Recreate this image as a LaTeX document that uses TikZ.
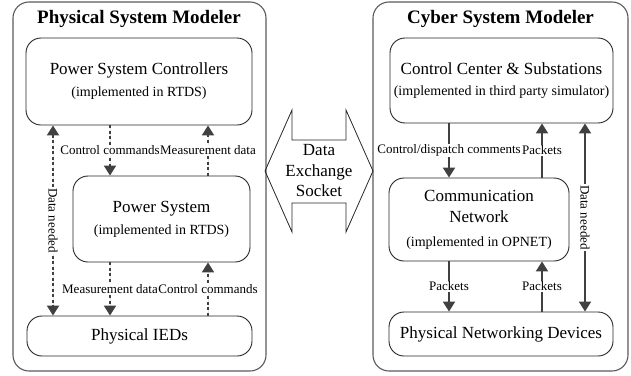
\documentclass[tikz,border=0pt]{standalone}
\usepackage{fontspec}
\setmainfont{Liberation Serif}
\usetikzlibrary{arrows.meta}

\definecolor{linegray}{HTML}{404040}
\definecolor{framegray}{HTML}{5A5A5A}

\begin{document}
\begin{tikzpicture}[x=1pt,y=-1pt,
  >={Triangle[length=10pt,width=12pt]},
  modeler/.style={draw=framegray, line width=1.1pt, rounded corners=16pt, inner sep=0pt},
  unit/.style={draw=black!85, line width=0.9pt, rounded corners=15pt, align=center,
    inner sep=0pt, font=\fontsize{17}{21}\selectfont},
  title/.style={font=\fontsize{19}{22}\selectfont\bfseries},
  flow/.style={draw=linegray, fill=linegray, line width=2pt, ->},
  dflow/.style={flow, dash pattern=on 3pt off 2.5pt},
  tag/.style={fill=white, inner sep=1pt, font=\fontsize{13}{15}\selectfont},
]
\useasboundingbox (0,0) rectangle (631,375);

% outer modeler frames
\node[modeler, minimum width=253pt, minimum height=369pt] (phys) at (139.5,186.5) {};
\node[modeler, minimum width=255pt, minimum height=369pt] (cyber) at (500.5,186.5) {};
\node[title] (physT) at (139,19) {Physical System Modeler};
\node[title] (cyberT) at (500.5,19) {Cyber System Modeler};

% physical side
\node[unit, minimum width=226pt, minimum height=87pt] (psc) at (139,81.5)
  {Power System Controllers\\[1pt]{\fontsize{14}{17}\selectfont (implemented in RTDS)}};
\node[unit, minimum width=177pt, minimum height=86pt] (ps) at (161.5,219)
  {Power System\\[1pt]{\fontsize{14}{17}\selectfont (implemented in RTDS)}};
\node[unit, minimum width=225pt, minimum height=40pt] (ied) at (139.5,336) {Physical IEDs};

% cyber side
\node[unit, minimum width=223pt, minimum height=85pt] (ccs) at (501.5,80.5)
  {Control Center \& Substations\\[0pt]{\fontsize{14}{17}\selectfont (implemented in third party simulator)}};
\node[unit, minimum width=180pt, minimum height=83pt] (cn) at (479,219.5)
  {Communication\\Network\\[3pt]{\fontsize{14}{17}\selectfont (implemented in OPNET)}};
\node[unit, minimum width=224pt, minimum height=44pt] (pnd) at (501,334) {Physical Networking Devices};

% data exchange socket
\draw[draw=black!85, line width=0.8pt] (265,171) -- (292,110) -- (292,140) -- (346,140) -- (346,110)
  -- (373,171) -- (346,232) -- (346,203) -- (292,203) -- (292,232) -- cycle;
\node[align=center, font=\fontsize{17}{20.5}\selectfont] (sock) at (319,171) {Data\\Exchange\\Socket};

% connector columns
\coordinate (xa) at (53,0);
\coordinate (xb) at (110,0);
\coordinate (xc) at (208,0);
\coordinate (xd) at (449,0);
\coordinate (xe) at (542,0);
\coordinate (xf) at (585,0);

% physical side flows
\draw[dflow, <->] (psc.south -| xa) -- node[tag, rotate=-90] {Data needed} (ied.north -| xa);
\draw[dflow] (psc.south -| xb) -- node[tag] {Control commands} (ps.north -| xb);
\draw[dflow] (ps.north -| xc) -- node[tag] {Measurement data} (psc.south -| xc);
\draw[dflow] (ps.south -| xb) -- node[tag] {Measurement data} (ied.north -| xb);
\draw[dflow] (ied.north -| xc) -- node[tag] {Control commands} (ps.south -| xc);

% cyber side flows
\draw[flow] (ccs.south -| xd) -- node[tag] {Control/dispatch comments} (cn.north -| xd);
\draw[flow] (cn.north -| xe) -- node[tag] {Packets} (ccs.south -| xe);
\draw[flow, <->] (ccs.south -| xf) -- node[tag, rotate=-90] {Data needed} (pnd.north -| xf);
\draw[flow] (cn.south -| xd) -- node[tag] {Packets} (pnd.north -| xd);
\draw[flow] (pnd.north -| xe) -- node[tag] {Packets} (cn.south -| xe);
\end{tikzpicture}
\end{document}
